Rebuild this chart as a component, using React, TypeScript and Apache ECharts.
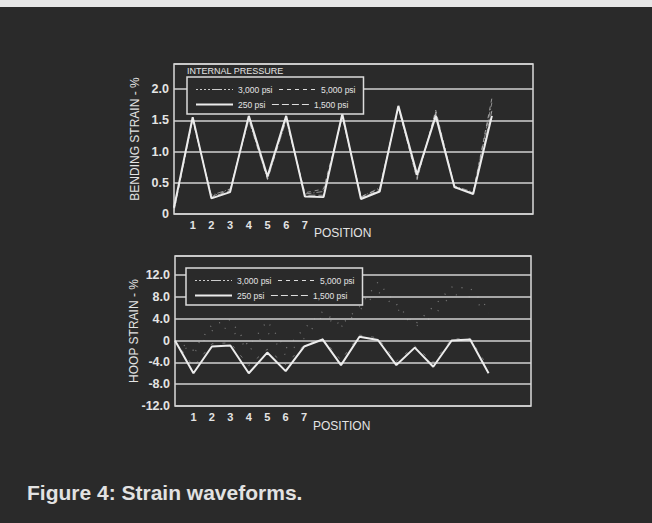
import { useEffect, useRef } from 'react';
import * as echarts from 'echarts';

// ---------- data ----------
const positions = [0, 1, 2, 3, 4, 5, 6, 7, 8, 9, 10, 11, 12, 13, 14, 15, 16, 17];
const positionTickLabels = ['1', '2', '3', '4', '5', '6', '7'];
const pressureNames = ['3,000 psi', '5,000 psi', '250 psi', '1,500 psi'];

const bendingTickLabels = ['0', '0.5', '1.0', '1.5', '2.0'];
const hoopTickLabels = ['-12.0', '-8.0', '-4.0', '0', '4.0', '8.0', '12.0'];

// Bending strain, %
const bending250 = [0.1, 1.55, 0.25, 0.35, 1.57, 0.6, 1.57, 0.28, 0.27, 1.6, 0.24, 0.36, 1.73, 0.63, 1.57, 0.43, 0.32, 1.57];
const bending1500 = [0.08, 1.53, 0.27, 0.37, 1.55, 0.58, 1.55, 0.3, 0.3, 1.58, 0.26, 0.38, 1.72, 0.6, 1.6, 0.44, 0.33, 1.65];
const bending3000 = [0.05, 1.5, 0.3, 0.4, 1.5, 0.55, 1.5, 0.32, 0.36, 1.55, 0.27, 0.42, 1.7, 0.57, 1.63, 0.45, 0.35, 1.78];
const bending5000 = [0.04, 1.52, 0.28, 0.39, 1.53, 0.56, 1.52, 0.34, 0.4, 1.56, 0.28, 0.4, 1.71, 0.55, 1.66, 0.42, 0.34, 1.85];

// Hoop strain, %
const hoop250 = [0, -6.0, -1.1, -0.9, -6.0, -2.2, -5.6, -1.1, 0.2, -4.5, 0.7, 0.1, -4.5, -1.3, -4.8, 0, 0.2, -6.0];
const hoop1500 = [0, -4.8, -0.6, -0.4, -4.6, -1.6, -4.4, -0.8, 0.4, -3.6, 1.0, 0.5, -3.8, -1.0, -4.0, 0.3, 0.4, -5.0];
const hoop3000 = [0, -1.8, 2.9, 3.8, -1.1, 3.6, -1.5, 2.2, 5.3, 2.8, 6.2, 10.7, 6.7, 2.9, 6.2, 9.8, 9.6, 5.8];
const hoop5000 = [0, -2.4, 1.8, 2.4, -2.0, 1.6, -2.7, 0.4, 4.5, 2.5, 5.5, 9.0, 6.0, 2.5, 4.4, 8.5, 8.0, 5.0];

// ---------- style ----------
const BG = '#2a2a2a';
const FG = '#e4e4e4';
const GRIDC = '#d2d2d2';
const FONT = '"Liberation Sans", Arial, Helvetica, sans-serif';

const styles: Record<string, any> = {
  '250 psi': { color: '#ececec', width: 2, type: 'solid', opacity: 1 },
  '1,500 psi': { color: '#cfcfcf', width: 1, type: [7, 3], opacity: 0.75 },
  '3,000 psi': { color: '#bdbdbd', width: 1, type: [6, 2, 1, 2], opacity: 0.7 },
  '5,000 psi': { color: '#c8c8c8', width: 1, type: [4, 4], opacity: 0.7 },
};
const legendIconStyles: Record<string, any> = {
  '250 psi': { color: '#ececec', width: 2, type: 'solid', opacity: 1 },
  '1,500 psi': { color: '#dddddd', width: 1, type: [7, 3], opacity: 1 },
  '3,000 psi': { color: '#cccccc', width: 1, type: [2, 2, 2, 2, 2, 2, 2, 2, 10, 2], opacity: 1 },
  '5,000 psi': { color: '#dddddd', width: 1, type: [4, 4], opacity: 1 },
};

function lineSeries(name: string, values: number[], axis: number, override?: any, z = 2) {
  const ls = { ...styles[name], ...(override || {}) };
  return {
    type: 'line',
    name,
    xAxisIndex: axis,
    yAxisIndex: axis,
    data: positions.map((p, i) => [p, values[i]]),
    symbol: 'none',
    lineStyle: ls,
    itemStyle: { color: ls.color },
    z,
    silent: true,
  };
}

function makeLegend(top: number, left: number) {
  return {
    orient: 'horizontal',
    left,
    top,
    width: 172,
    padding: [8, 8, 5, 8],
    itemWidth: 37,
    itemHeight: 8,
    itemGap: 6,
    borderColor: '#dcdcdc',
    borderWidth: 1.5,
    borderRadius: 0,
    backgroundColor: BG,
    selectedMode: false,
    textStyle: { color: FG, fontSize: 8.5, fontFamily: FONT, padding: [0, 0, 0, 0] },
    data: pressureNames.map((n) => ({
      name: n,
      lineStyle: legendIconStyles[n],
      itemStyle: { color: 'transparent', opacity: 0, borderWidth: 0 },
    })),
    z: 10,
  };
}

function xAxis(gridIndex: number, max: number) {
  return {
    gridIndex,
    type: 'value',
    min: 0,
    max,
    interval: 1,
    axisLine: { show: false },
    axisTick: { show: false },
    splitLine: { show: false },
    axisLabel: {
      color: FG,
      fontSize: 11,
      fontWeight: 'bold',
      fontFamily: FONT,
      margin: 5,
      formatter: (v: number) => (positionTickLabels.includes(String(v)) ? String(v) : ''),
    },
  };
}

function yAxis(gridIndex: number, min: number, max: number, interval: number, name: string, labels: string[], nameGap: number) {
  return {
    gridIndex,
    type: 'value',
    min,
    max,
    interval,
    name,
    nameLocation: 'middle',
    nameGap,
    nameMoveOverlap: false,
    nameTextStyle: { color: FG, fontSize: 12, fontFamily: FONT },
    axisLine: { show: false },
    axisTick: { show: false },
    splitLine: { show: true, lineStyle: { color: GRIDC, width: 1.5 } },
    axisLabel: {
      color: FG,
      fontSize: 12.5,
      fontWeight: 'bold',
      fontFamily: FONT,
      margin: 5,
      formatter: (v: number) => {
        const s = Math.abs(v) < 1e-9 ? '0' : v.toFixed(1);
        return labels.includes(s) ? s : '';
      },
    },
  };
}

const option: any = {
  animation: false,
  backgroundColor: BG,
  textStyle: { fontFamily: FONT },
  grid: [
    { left: 174, top: 64, width: 359, height: 150, show: true, borderColor: '#dadada', borderWidth: 1.5, backgroundColor: 'transparent' },
    { left: 175, top: 256, width: 356, height: 150, show: true, borderColor: '#dadada', borderWidth: 1.5, backgroundColor: 'transparent' },
  ],
  xAxis: [xAxis(0, 19.2), xAxis(1, 19.3)],
  yAxis: [
    yAxis(0, 0, 2.4, 0.5, 'BENDING STRAIN - %', bendingTickLabels, 33),
    yAxis(1, -12, 15.5, 4, 'HOOP STRAIN - %', hoopTickLabels, 35),
  ],
  legend: [makeLegend(77, 187), makeLegend(268, 186)],
  series: [
    lineSeries('3,000 psi', bending3000, 0),
    lineSeries('5,000 psi', bending5000, 0),
    lineSeries('1,500 psi', bending1500, 0),
    lineSeries('250 psi', bending250, 0, undefined, 5),
    lineSeries('3,000 psi', hoop3000, 1, { type: [1, 9], width: 1.3, opacity: 0.55 }),
    lineSeries('5,000 psi', hoop5000, 1, { type: [1, 12], width: 1.3, opacity: 0.45 }),
    lineSeries('1,500 psi', hoop1500, 1, { type: [3, 9], opacity: 0.45 }),
    lineSeries('250 psi', hoop250, 1, undefined, 5),
  ],
  graphic: [
    { type: 'rect', left: 0, top: 0, shape: { width: 652, height: 7 }, style: { fill: '#e6e6e6' }, silent: true },
    {
      type: 'text', x: 187, y: 71, silent: true,
      style: { text: 'INTERNAL PRESSURE', fill: FG, fontSize: 9, fontFamily: FONT, textVerticalAlign: 'middle' },
    },
    {
      type: 'text', x: 314, y: 233, silent: true,
      style: { text: 'POSITION', fill: FG, fontSize: 12, fontFamily: FONT, textVerticalAlign: 'middle' },
    },
    {
      type: 'text', x: 313, y: 426, silent: true,
      style: { text: 'POSITION', fill: FG, fontSize: 12, fontFamily: FONT, textVerticalAlign: 'middle' },
    },
    {
      type: 'text', x: 27, y: 492, silent: true,
      style: { text: 'Figure 4: Strain waveforms.', fill: '#e2e2e2', fontSize: 21, fontWeight: 'bold', fontFamily: FONT, textVerticalAlign: 'middle' },
    },
  ],
};

export default function App() {
  const ref = useRef<HTMLDivElement>(null);
  useEffect(() => {
    if (!ref.current) return;
    const chart = echarts.init(ref.current, null, { renderer: 'svg' });
    chart.setOption(option);
    return () => chart.dispose();
  }, []);
  return (
    <div
      ref={ref}
      style={{ position: 'absolute', left: 0, top: 0, width: 652, height: 523, background: BG }}
    />
  );
}
